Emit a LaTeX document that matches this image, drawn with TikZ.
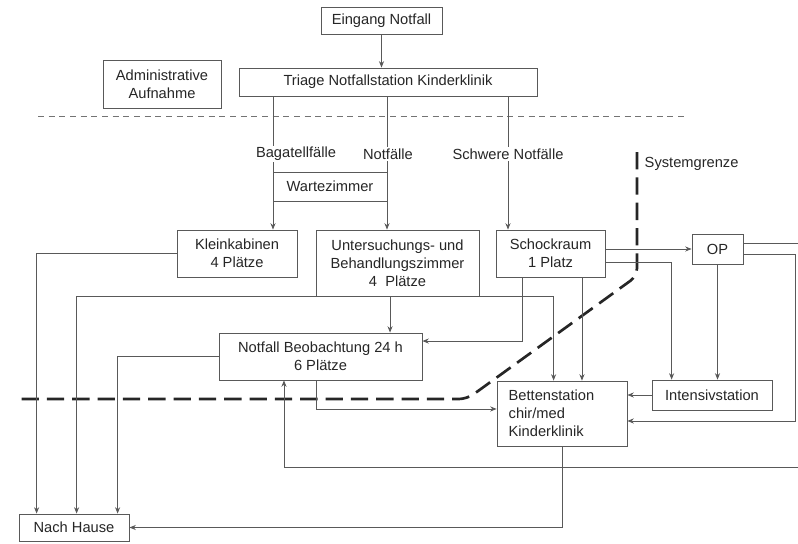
\documentclass[tikz,border=0pt]{standalone}
\usepackage{fontspec}
\setmainfont{Liberation Sans}
\usetikzlibrary{arrows.meta}

\tikzset{
	box/.style={draw=black!65, fill=white, align=center, inner sep=1pt, text=black!85},
	lbl/.style={fill=white, inner sep=1pt, text=black!85},
	arr/.style={draw=black!65, -{Stealth[length=4.8pt,width=3.8pt]}},
}

\begin{document}
\begin{tikzpicture}[x=0.75pt, y=-0.75pt, line width=0.6pt, font=\fontsize{11}{13.5}\selectfont]
	\useasboundingbox (0,0) rectangle (798,543);
	\node[box, minimum width=90.75pt, minimum height=20.25pt] (eingang) at (381.5,20.5) {Eingang Notfall};
	\node[box, minimum width=223.5pt, minimum height=21pt] (triage) at (388,82) {Triage Notfallstation Kinderklinik};
	\node[box, minimum width=88.5pt, minimum height=36pt] (admin) at (162,84) {Administrative\\Aufnahme};
	\node[box, minimum width=85.5pt, minimum height=21.75pt] (warte) at (330,186.5) {Wartezimmer};
	\node[box, minimum width=90pt, minimum height=35.25pt] (klein) at (237,253.5) {Kleinkabinen\\4 Plätze};
	\node[box, minimum width=122.25pt, minimum height=49.5pt] (unters) at (397.5,263) {Untersuchungs- und\\Behandlungszimmer\\4~~Plätze};
	\node[box, minimum width=81.75pt, minimum height=35.25pt] (schock) at (550.5,253.5) {Schockraum\\1 Platz};
	\node[box, minimum width=38.25pt, minimum height=22.5pt] (op) at (717.5,249) {OP};
	\node[box, minimum width=152.25pt, minimum height=35.25pt] (beob) at (320.5,356.5) {Notfall Beobachtung 24 h\\6 Plätze};
	\node[box, minimum width=97.5pt, minimum height=48.75pt, text width=80pt, align=left, inner xsep=8pt] (betten) at (562,413.5) {Bettenstation\\chir/med\\Kinderklinik};
	\node[box, minimum width=90pt, minimum height=22.5pt] (intensiv) at (712,395) {Intensivstation};
	\node[box, minimum width=82.5pt, minimum height=20.25pt] (hause) at (74,527.5) {Nach Hause};

	% Trennlinie und Systemgrenze
	\draw[black!55, dash pattern=on 4.5pt off 3.5pt] (38,116) -- (688,116);
	\draw[black!85, line width=2pt, dash pattern=on 13pt off 6pt, rounded corners=6pt] (637,152) -- (637,276) -- (467,399) -- (14,399);
	\node[anchor=west, text=black!85, inner sep=1pt] (sysgr) at (643,164) {Systemgrenze};

	\coordinate (xbag) at (273,0);
	\coordinate (xnf) at (387,0);
	\coordinate (xsnf) at (508,0);
	\coordinate (ub) at ([xshift=-5.6pt]unters.south);
	\coordinate (sb) at ([xshift=23.6pt]schock.south);
	\coordinate (randU) at (798,467);

	\draw[arr] (eingang.south) -- (eingang.south |- triage.north);
	\draw[arr] (triage.south -| xbag) -- (klein.north -| xbag);
	\draw[arr] (triage.south -| xnf) -- (unters.north -| xnf);
	\draw[arr] (triage.south -| xsnf) -- (schock.north -| xsnf);
	\draw[arr] (klein.west) -| ([xshift=13.5pt]hause.north west);
	\draw[arr] (unters.south west) -| ([xshift=43.5pt]hause.north west);
	\draw[arr] (unters.south east) -| ([xshift=42.75pt]betten.north west);
	\draw[arr] (ub) -- (ub |- beob.north);
	\draw[arr] ([xshift=-21.4pt]schock.south) |- ([yshift=11.6pt]beob.east);
	\draw[arr] (sb) -- (sb |- betten.north);
	\draw[arr] (schock.east |- op.west) -- (op.west);
	\draw[arr] ([yshift=-6.4pt]schock.east) -| ([xshift=15pt]intensiv.north west);
	\draw[arr] (op.south) -- (op.south |- intensiv.north);
	\draw[arr] ([yshift=-3.75pt]op.east) -- ++(39pt,0) |- ([yshift=-5.6pt]betten.east);
	\draw[draw=black!65] ([yshift=4.5pt]op.east) -- ++(41.25pt,0);
	\draw[arr] (intensiv.west) -- (intensiv.west -| betten.east);
	\draw[arr] ([xshift=-3.4pt]beob.south) |- ([yshift=3.4pt]betten.west);
	\draw[arr] (randU) -| ([xshift=-27.4pt]beob.south);
	\draw[arr] (beob.west) -| ([xshift=74.25pt]hause.north west);
	\draw[arr] (betten.south) |- (hause.east);

	\node[lbl] (bag) at (296,154) {Bagatellfälle};
	\node[lbl] (nf) at (388,154) {Notfälle};
	\node[lbl] (snf) at (508,154) {Schwere Notfälle};
\end{tikzpicture}
\end{document}
